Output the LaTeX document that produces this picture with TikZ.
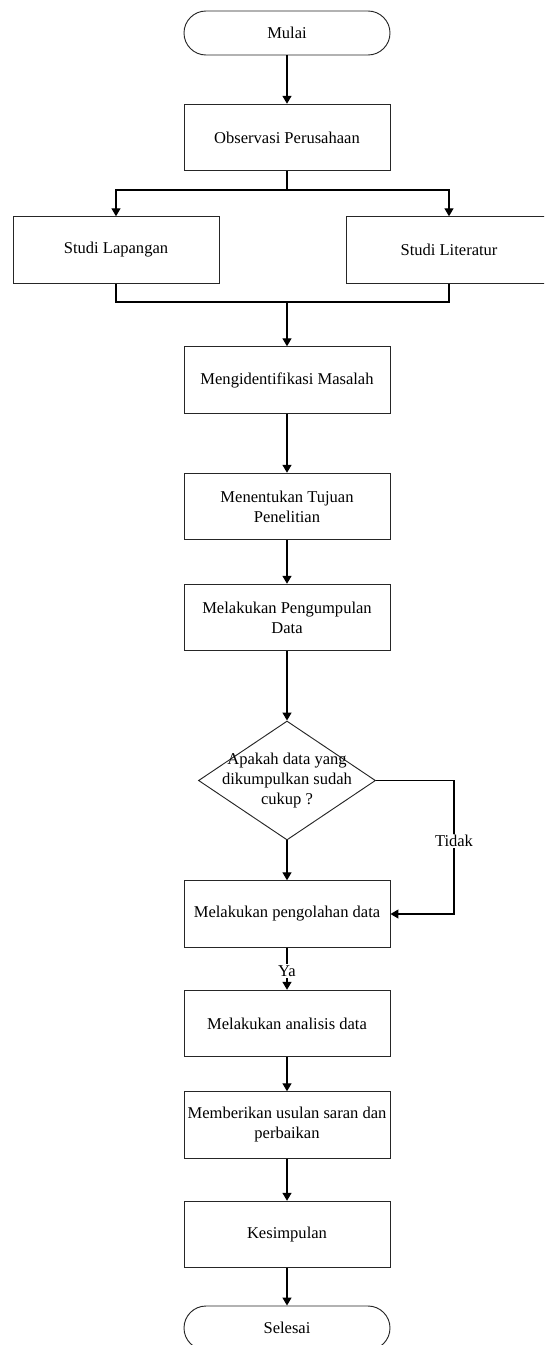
\documentclass[tikz,border=0pt]{standalone}
\usepackage{fontspec}
\setmainfont{Liberation Serif}
\usetikzlibrary{arrows.meta,shapes.geometric}
\begin{document}
\begin{tikzpicture}[x=0.75pt,y=-0.75pt,
  every node/.style={font=\fontsize{12.4}{15}\selectfont},
  box/.style={draw=black!85, line width=0.7pt, minimum width=206*0.75pt, minimum height=66.5*0.75pt, inner sep=1pt, align=center},
  term/.style={box, rounded corners=16.5pt, minimum height=44*0.75pt},
  dec/.style={draw=black!85, line width=0.7pt, diamond, minimum width=177*0.75pt, minimum height=119*0.75pt, aspect=1.487, inner sep=0pt},
  conn/.style={draw=black, line width=1pt},
  arr/.style={conn, -{Triangle[width=6.75pt,length=6pt]}},
  lbl/.style={fill=white, inner sep=1pt}]
\useasboundingbox (0,0) rectangle (544,1345);
\clip (0,0) rectangle (544,1345);
\node[term] (mulai) at (287,33) {Mulai};
\node[box] (obs) at (287,137.5) {Observasi Perusahaan};
\node[box] (lap) at (116,250) {Studi Lapangan};
\node[box] (lit) at (449,250) {Studi Literatur};
\node[box] (ident) at (287,380) {Mengidentifikasi Masalah};
\node[box] (tuj) at (287,506.5) {Menentukan Tujuan\\Penelitian};
\node[box] (kum) at (287,617.5) {Melakukan Pengumpulan\\Data};
\node[dec] (dia) at (287,780.5) {};
\node (diatext) at (287,781) [align=center, inner sep=0pt] {Apakah data yang\\dikumpulkan sudah\\cukup ?};
\node[box] (olah) at (287,914) {Melakukan pengolahan data};
\node[box] (anal) at (287,1023.5) {Melakukan analisis data};
\node[box] (beri) at (287,1125) {Memberikan usulan saran dan\\perbaikan};
\node[box] (kes) at (287,1234.5) {Kesimpulan};
\node[term] (sel) at (287,1328) {Selesai};
\coordinate (split) at (287,190);
\coordinate (join) at (287,302);
\coordinate (tidakc) at (454,780.5);
\draw[arr] (mulai.south) -- (obs.north);
\draw[conn] (obs.south) -- (split);
\draw[arr] (split) -| (lap.north);
\draw[arr] (split) -| (lit.north);
\draw[conn] (lap.south) |- (join) -| (lit.south);
\draw[arr] (join) -- (ident.north);
\draw[arr] (ident.south) -- (tuj.north);
\draw[arr] (tuj.south) -- (kum.north);
\draw[arr] (kum.south) -- (dia.north);
\draw[arr] (dia.south) -- (olah.north);
\draw[arr] (dia.east) -- (tidakc) |- (olah.east) node[lbl, pos=0.227] {Tidak};
\draw[arr] (olah.south) -- node[lbl, pos=0.55] {Ya} (anal.north);
\draw[arr] (anal.south) -- (beri.north);
\draw[arr] (beri.south) -- (kes.north);
\draw[arr] (kes.south) -- (sel.north);
\end{tikzpicture}
\end{document}
